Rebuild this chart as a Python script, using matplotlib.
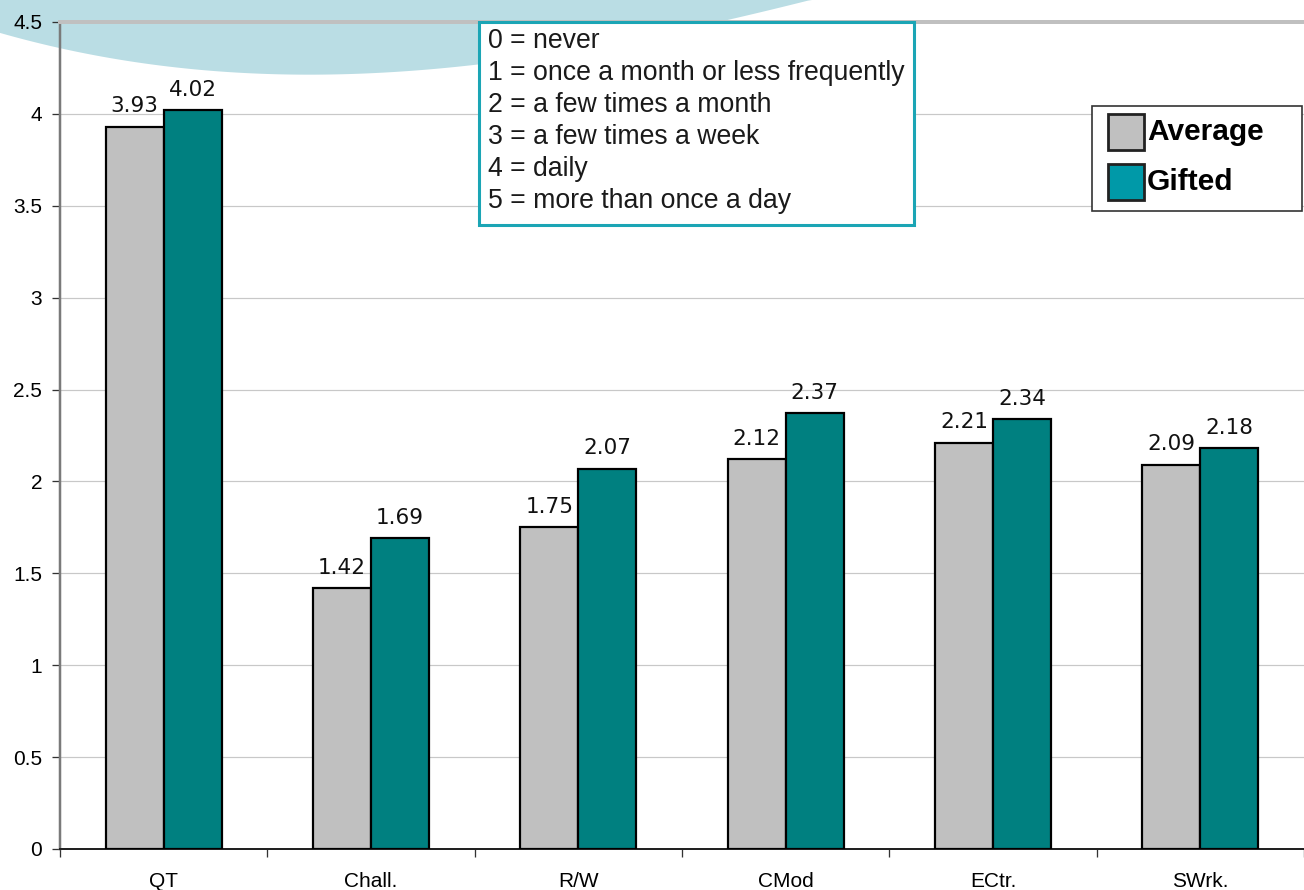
import numpy as np
import matplotlib
matplotlib.use("Agg")
import matplotlib.pyplot as plt
from matplotlib.patches import Polygon, Rectangle
from matplotlib.transforms import Affine2D

categories = ["QT", "Chall.", "R/W", "CMod", "ECtr.", "SWrk."]
average = [3.93, 1.42, 1.75, 2.12, 2.21, 2.09]
gifted = [4.02, 1.69, 2.07, 2.37, 2.34, 2.18]
series_names = ["Average", "Gifted"]
series_colors = ["#c0c0c0", "#008080"]
legend_colors = ["#c0c0c0", "#0099a8"]
scale_lines = ["0 = never", "1 = once a month or less frequently", "2 = a few times a month",
               "3 = a few times a week", "4 = daily", "5 = more than once a day"]
yticks = [0, 0.5, 1, 1.5, 2, 2.5, 3, 3.5, 4, 4.5]
ytick_labels = ["0", "0.5", "1", "1.5", "2", "2.5", "3", "3.5", "4", "4.5"]

W, H = 1304, 890
PT = 72 / 100  # points per pixel at dpi 100
fig = plt.figure(figsize=(W / 100, H / 100), dpi=100)
px = Affine2D().scale(1 / W, -1 / H).translate(0, 1) + fig.transFigure

# decorative light-blue ellipse in the top-left corner (pixel coords)
bx = np.array([0, 60, 200, 320, 420, 478, 720, 810])
by = np.array([33, 48, 70, 74, 72, 63, 22, 0])
coef = np.polyfit(bx, by, 4)
xs = np.linspace(-5, 812, 200)
ys = np.clip(np.polyval(coef, xs), 0, None)
verts = [(-5, -5)] + list(zip(xs, ys)) + [(812, -5)]
fig.add_artist(Polygon(verts, closed=True, transform=px, facecolor="#badde4",
                       edgecolor="none", zorder=-5))

ax = fig.add_axes([60 / W, 1 - 849 / H, 1 - 60 / W, (849 - 22) / H])
ax.set_facecolor("none")

x = np.arange(len(categories))
bw = 0.28
b1 = ax.bar(x - bw / 2, average, bw, color=series_colors[0], edgecolor="black",
            linewidth=2.2 * PT, zorder=3)
b2 = ax.bar(x + bw / 2, gifted, bw, color=series_colors[1], edgecolor="black",
            linewidth=2.2 * PT, zorder=3)
for bars in (b1, b2):
    ax.bar_label(bars, labels=[f"{v:.2f}" for v in bars.datavalues], padding=7.5,
                 fontsize=15.5, family="DejaVu Sans", color="#111111")

ax.set_xlim(-0.5, len(categories) - 0.5)
ax.set_ylim(0, 4.5)
ax.set_yticks(yticks)
ax.set_yticklabels(ytick_labels, family="Liberation Sans", fontsize=15)
ax.yaxis.grid(True, color="#c8c8c8", linewidth=1.2 * PT, zorder=0)
ax.set_axisbelow(True)

ax.set_xticks(np.arange(len(categories) + 1) - 0.5)
ax.set_xticklabels([])
ax.set_xticks(x, minor=True)
ax.set_xticklabels(categories, minor=True, family="Liberation Sans", fontsize=15)
ax.tick_params(axis="x", which="major", length=8 * PT, width=1.3 * PT, color="#333333",
               direction="out")
ax.tick_params(axis="x", which="minor", length=0, pad=23 * PT)
ax.tick_params(axis="y", length=8 * PT, width=1.3 * PT, color="#333333", pad=10 * PT)

ax.spines["right"].set_visible(False)
ax.spines["top"].set_color("#c0c0c0")
ax.spines["top"].set_linewidth(4 * PT)
ax.spines["left"].set_color("#7a7a7a")
ax.spines["left"].set_linewidth(2.5 * PT)
ax.spines["bottom"].set_color("#222222")
ax.spines["bottom"].set_linewidth(2 * PT)

# scale description box
fig.add_artist(Rectangle((479, 22), 435, 203, transform=px, facecolor="white",
                         edgecolor="#1ba5b5", linewidth=2.2, zorder=5))
for i, line in enumerate(scale_lines):
    fig.text(488 / W, 1 - (41 + i * 32) / H, line, family="Liberation Sans",
             fontsize=19.2, va="center", ha="left", color="#1a1a1a", zorder=6)

# series legend (drawn by hand to match the original layout)
fig.add_artist(Rectangle((1092, 106), 210, 105, transform=px, facecolor="white",
                         edgecolor="#333333", linewidth=1.2, zorder=5))
for i, (name, col) in enumerate(zip(series_names, legend_colors)):
    yc = 132 + i * 50
    fig.add_artist(Rectangle((1108, yc - 18), 36, 36, transform=px, facecolor=col,
                             edgecolor="#222222", linewidth=2, zorder=6))
    fig.text(1147 / W, 1 - yc / H, name, family="Liberation Sans", weight="bold",
             fontsize=21.5, va="center", ha="left", color="black", zorder=7)

fig.savefig("out.png", dpi=100)
